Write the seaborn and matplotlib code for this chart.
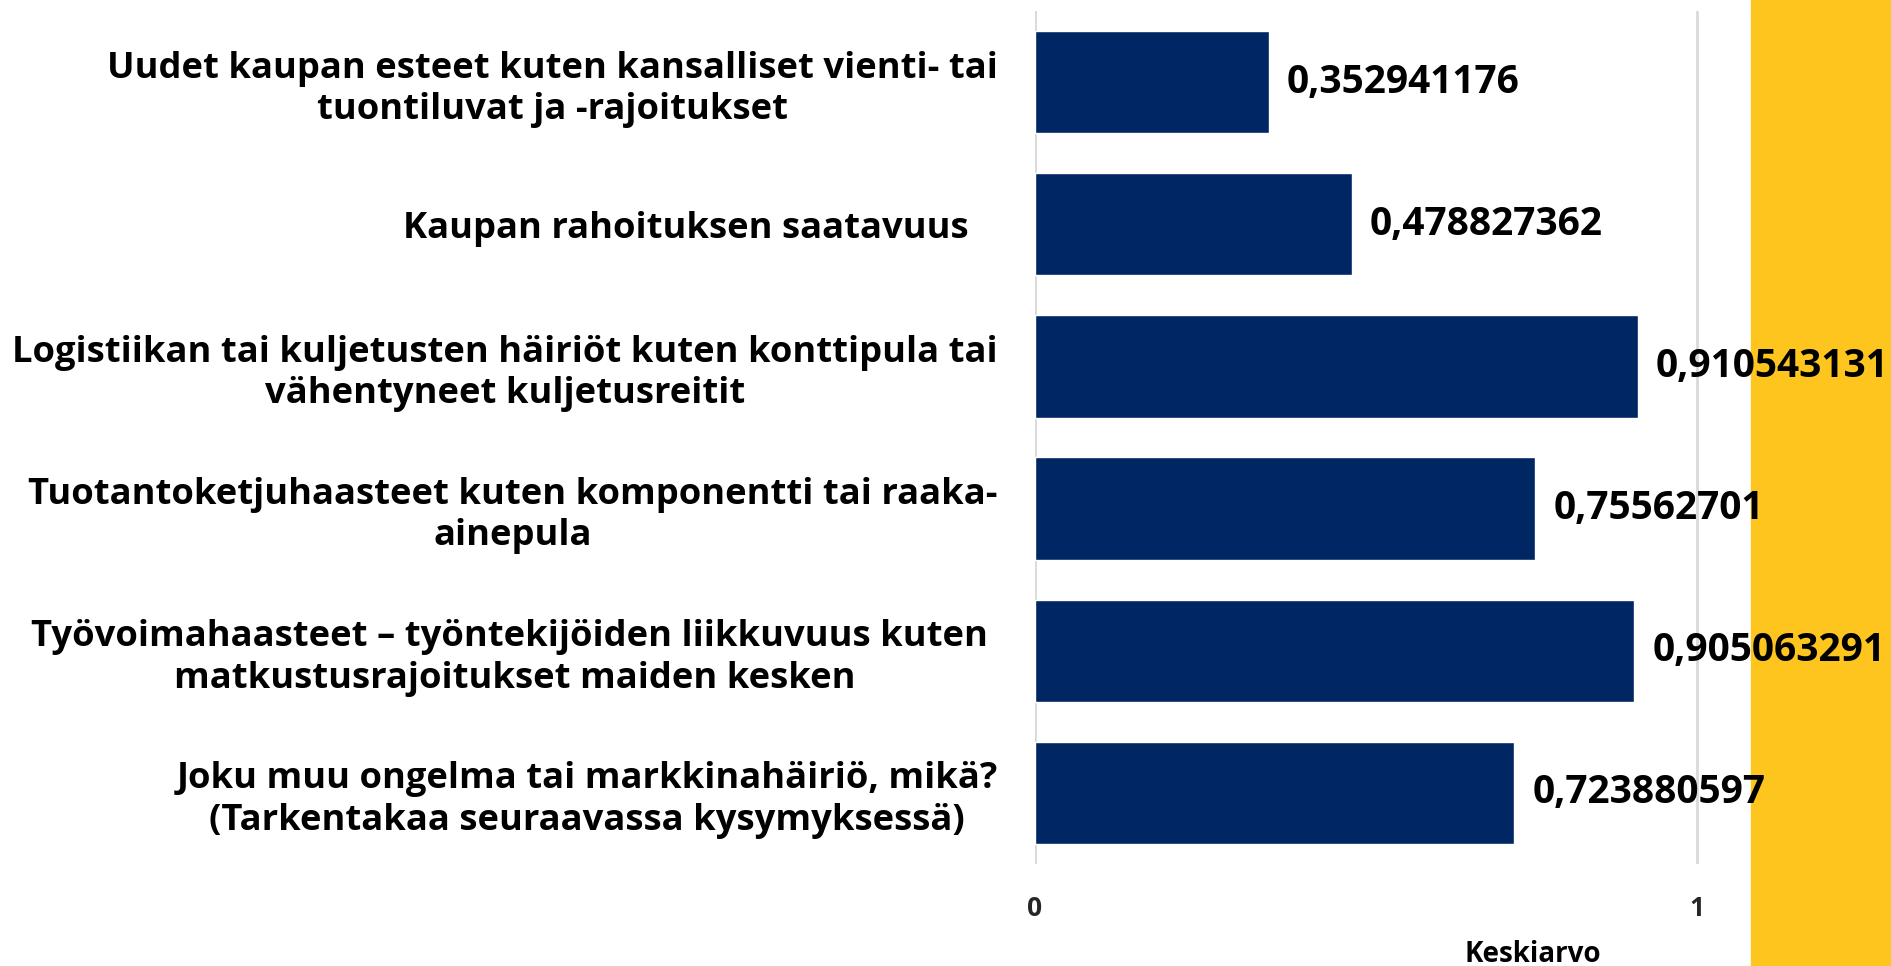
import matplotlib
matplotlib.use('Agg')
import matplotlib.pyplot as plt
import seaborn as sns
from matplotlib.patches import Rectangle

## chart data
categories = [
    "Uudet kaupan esteet kuten kansalliset vienti- tai\ntuontiluvat ja -rajoitukset",
    "Kaupan rahoituksen saatavuus   ",
    "Logistiikan tai kuljetusten häiriöt kuten konttipula tai\nvähentyneet kuljetusreitit",
    "Tuotantoketjuhaasteet kuten komponentti tai raaka-\nainepula",
    "Työvoimahaasteet – työntekijöiden liikkuvuus kuten \nmatkustusrajoitukset maiden kesken",
    "Joku muu ongelma tai markkinahäiriö, mikä?\n(Tarkentakaa seuraavassa kysymyksessä)",
]
values = [0.352941176, 0.478827362, 0.910543131, 0.75562701, 0.905063291, 0.723880597]
value_labels = [str(v).replace('.', ',') for v in values]
x_ticks = [0, 1]
x_title = 'Keskiarvo'

bar_color = '#002663'
side_color = '#FEC51F'

sns.set_theme(style='white')
plt.rcParams['font.family'] = ['Open Sans', 'DejaVu Sans']

fig = plt.figure(figsize=(18.91, 9.66), dpi=100)
ax = fig.add_axes([0.5473, 0.1056, 0.3781, 0.883])
ax.set_facecolor('none')

## yellow strip on the right, behind everything
fig.patches.append(Rectangle((1751 / 1891, 0), 1 - 1751 / 1891, 1,
                             transform=fig.transFigure, color=side_color, zorder=-1))

sns.barplot(x=values, y=categories, orient='h', color=bar_color,
            saturation=1, width=0.72, errorbar=None, ax=ax)

ax.set_xlim(0, 1.08)
ax.set_ylim(5.5, -0.5)
ax.set_xticks(x_ticks)
ax.set_xticklabels([str(t) for t in x_ticks], fontsize=19, fontweight='bold')
ax.xaxis.grid(True, color='#d9d9d9', linewidth=2)
ax.set_axisbelow(True)
sns.despine(ax=ax, left=True, bottom=True)
ax.tick_params(axis='x', length=0, pad=22)
ax.tick_params(axis='y', length=0, pad=27)
ax.set_xlabel('')
ax.set_ylabel('')

for t in ax.get_yticklabels():
    t.set_multialignment('center')
    t.set_fontsize(26.2)
    t.set_fontweight('bold')
    t.set_color('black')

ax.bar_label(ax.containers[0], labels=value_labels, padding=13,
             fontsize=28, fontweight='bold', color='black', clip_on=False)

fig.text(1533 / 1891, 0.004, x_title, ha='center', va='baseline',
         fontsize=20, fontweight='bold', color='black')

fig.savefig('out.png', dpi=100)
